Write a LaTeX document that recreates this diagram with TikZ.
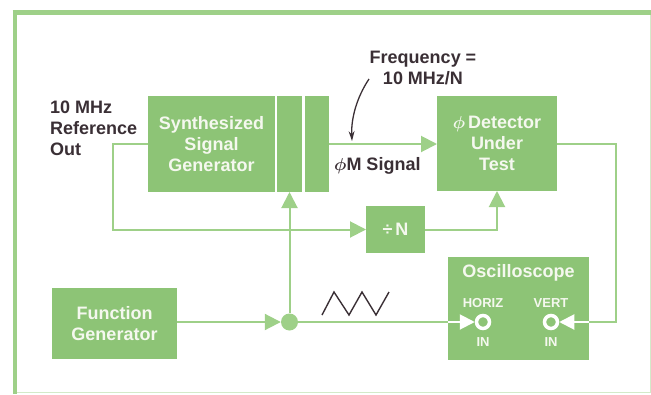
\documentclass[tikz,border=0pt]{standalone}
\usepackage{fontspec}
\setmainfont{Liberation Sans}
\usetikzlibrary{arrows.meta,positioning,calc}
\definecolor{hpGreen}{HTML}{8DC476}
\definecolor{hpLine}{HTML}{9ED088}
\definecolor{hpText}{HTML}{F5F8EF}
\definecolor{hpDark}{HTML}{3A2F35}

\begin{document}
\begin{tikzpicture}[x=1pt, y=-1pt,
    every node/.style={font=\fontsize{18}{21}\selectfont\bfseries},
    block/.style={fill=hpGreen, inner sep=0pt, outer sep=0pt, align=center,
                  text=hpText},
    wire/.style={hpLine, line width=2pt},
    arr/.style={wire, -{Triangle[length=16pt, width=16pt]}},
    inarr/.style={white, line width=2pt, -{Triangle[length=15pt, width=15pt]}},
    jack/.style={circle, draw=white, line width=3.5pt, fill=hpGreen,
                 minimum size=13pt, inner sep=0pt},
    small/.style={font=\fontsize{13}{15}\selectfont\bfseries, text=hpText},
    note/.style={text=hpDark, inner sep=0pt},
  ]
  \useasboundingbox (0,0) rectangle (651,394);

  % Frame
  \draw[hpLine!45, line width=0.8pt] (15,12) -- (650,12) -- (650,392) -- (15,392);
  \draw[hpLine, line width=5pt] (12.5,12) -- (651,12);
  \draw[hpLine, line width=4pt] (15,10) -- (15,394);

  % Blocks
  \node[block, minimum width=127pt, minimum height=96pt] (synth) at (211.5,144)
    {Synthesized\\Signal\\Generator};
  \node[block, minimum width=25pt, minimum height=96pt, right=2pt of synth] (modA) {};
  \node[block, minimum width=24pt, minimum height=96pt, right=3pt of modA] (modB) {};
  \node[block, minimum width=120pt, minimum height=95pt] (det) at (497,143.5)
    {{\boldmath$\phi$}\,Detector\\Under\\Test};
  \node[block, minimum width=59pt, minimum height=47pt] (divn) at (395.5,229.5) {÷\,N};
  \node[block, minimum width=125pt, minimum height=71pt] (func) at (114.5,323.5)
    {Function\\Generator};
  \node[block, minimum width=141pt, minimum height=103pt] (osc) at (518.5,308.5) {};
  \node[text=hpText] (osctitle) at (518.5,273) {Oscilloscope};

  % Scope inputs
  \node[jack] (hin) at (483,322) {};
  \node[jack] (vin) at (551,322) {};
  \node[small] (hlab) at (483,303) {HORIZ};
  \node[small] (vlab) at (551,303) {VERT};
  \node[small] (hinlab) at (483,342) {IN};
  \node[small] (vinlab) at (551,342) {IN};

  % Junction
  \node[circle, fill=hpLine, minimum size=17pt, inner sep=0pt] (dot) at (289.5,322) {};

  % Labels
  \node[note, anchor=west, align=left] (ref) at (50,128) {10 MHz\\Reference\\Out};
  \node[note, align=center] (freq) at (423,68) {Frequency =\\10 MHz/N};
  \node[note, anchor=west] (phim) at (334,166) {{\boldmath$\phi$}M Signal};

  % Arrows
  \draw[arr] (synth.west) -- ++(-35,0) |- (divn.west);
  \draw[arr] (modB.east) -- (modB.east -| det.west);
  \draw[arr] (divn.east) -| (det.south);
  \coordinate (vtap) at ($(det.east)+(59,0)$);
  \draw[wire] (det.east) -- (vtap) |- (osc.east |- vin);
  \draw[inarr] (osc.east |- vin) -- (vin);
  \draw[arr] (func.east |- dot) -- (dot);
  \draw[arr] (dot) -- (dot |- modA.south);
  \draw[wire] (dot) -- (osc.west |- dot);
  \draw[inarr] (osc.west |- dot) -- (hin);

  % Frequency pointer
  \coordinate (ftail) at (369,79);
  \coordinate (ftip) at (352,141);
  \draw[hpDark, line width=1.3pt, -{Stealth[length=10pt, width=6pt]}]
    (ftail) .. controls (357,97) and (351,118) .. (ftip);

  % Sweep waveform
  \draw[hpDark, line width=1.4pt, line join=miter]
    (322,315) -- (334,292) -- (349,315) -- (362,292) -- (376,315) -- (389,292);
\end{tikzpicture}
\end{document}
